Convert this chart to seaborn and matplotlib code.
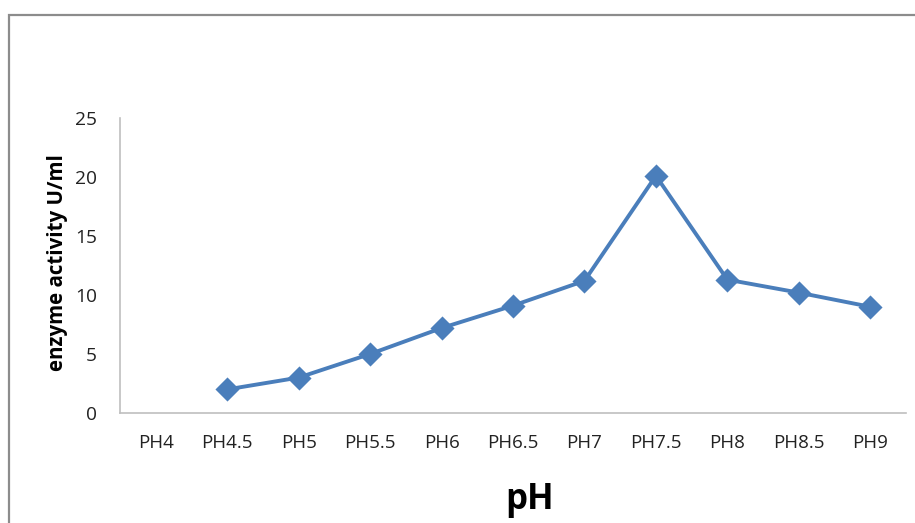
import numpy as np
import pandas as pd
import matplotlib
matplotlib.use("Agg")
import matplotlib.pyplot as plt
from matplotlib.patches import Rectangle
import seaborn as sns

# pH levels tested and measured enzyme activity (U/ml); no reading at pH 4
ph_labels = ["PH4", "PH4.5", "PH5", "PH5.5", "PH6", "PH6.5",
             "PH7", "PH7.5", "PH8", "PH8.5", "PH9"]
activity = [np.nan, 2.0, 3.0, 5.0, 7.2, 9.1, 11.2, 20.1, 11.3, 10.2, 9.0]
y_ticks = [0, 5, 10, 15, 20, 25]

df = pd.DataFrame({"pH": ph_labels, "activity": activity})

sns.set_theme(style="white")
plt.rcParams["font.family"] = ["Open Sans", "DejaVu Sans"]

line_color = "#4a7ebb"
axis_color = "#bfbfbf"
text_color = "#222222"

fig = plt.figure(figsize=(9.15, 5.23), dpi=100)
fig.patch.set_facecolor("white")
ax = fig.add_axes([120 / 915, 1 - 413 / 523, 786 / 915, 295 / 523])

sns.pointplot(data=df, x="pH", y="activity", order=ph_labels,
              color=line_color, markers="D", markersize=10,
              linewidth=2.8, errorbar=None, ax=ax)

ax.set_xlim(-0.5, len(ph_labels) - 0.5)
ax.set_ylim(y_ticks[0], y_ticks[-1])
ax.set_yticks(y_ticks)
ax.set_xticks(range(len(ph_labels)))
ax.set_xticklabels(ph_labels)

for side in ["top", "right"]:
    ax.spines[side].set_visible(False)
for side in ["left", "bottom"]:
    ax.spines[side].set_color(axis_color)
    ax.spines[side].set_linewidth(1.2)

ax.tick_params(axis="y", length=0, pad=16.5, labelsize=13.8, labelcolor=text_color)
ax.tick_params(axis="x", length=0, pad=15, labelsize=13.5, labelcolor=text_color)
ax.grid(False)

ax.set_xlabel("")
ax.set_ylabel("")
fig.text(58 / 915, 1 - 263 / 523, "enzyme activity U/ml", fontsize=14.8,
         fontweight="bold", color="black", rotation=90,
         ha="center", va="center")
fig.text(530 / 915, 1 - 500 / 523, "pH", fontsize=25, fontweight="bold",
         color="black", ha="center", va="center")

# outer chart border (open at right and bottom edges)
frame = Rectangle((9 / 915, -0.05), 1.0, 1 - 15 / 523 + 0.05,
                  transform=fig.transFigure, fill=False,
                  edgecolor="#8c8c8c", linewidth=1.6, clip_on=False)
fig.patches.append(frame)

fig.savefig("out.png", dpi=100, facecolor="white")
